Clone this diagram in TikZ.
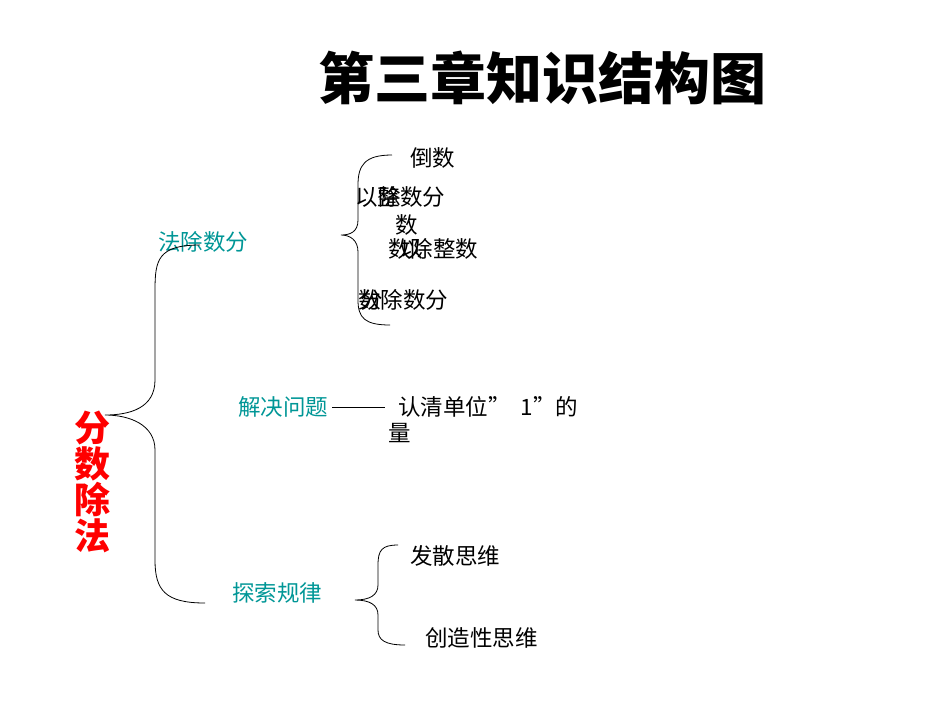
\documentclass[tikz,border=0pt]{standalone}
\usepackage{fontspec}
\setmainfont{Liberation Sans}
\newfontfamily\cjk{Noto Sans CJK SC}
\begin{document}
\begin{tikzpicture}[x=1pt,y=-1pt,
  lbl/.style={font=\cjk\fontsize{22.5}{26}\selectfont,inner sep=0},
  teal/.style={lbl,text={rgb,255:red,0;green,150;blue,150}},
  ln/.style={draw=black,line width=0.8pt}]
\useasboundingbox (0,0) rectangle (950,713);
\node[font=\cjk\bfseries\fontsize{56}{60}\selectfont,inner sep=0] (title) at (542,78) {第三章知识结构图};
\node[font=\cjk\bfseries\fontsize{36}{38}\selectfont,text=red,align=center,inner sep=0] (main) at (92,482) {分\\[-2pt]数\\[-2pt]除\\[-2pt]法};
\node[teal,anchor=west] (a) at (158,242) {法除数分};
\node[teal,anchor=west] (b) at (238,407) {解决问题};
\node[teal,anchor=west] (c) at (232,593) {探索规律};
\node[lbl,anchor=west] (a1) at (410,158) {倒数};
\node[lbl,anchor=west] (a2) at (355,197) {以整数分};
\node[lbl] (a2b) at (390,197) {除};
\node[lbl] (a2c) at (407,225) {数};
\node[lbl,anchor=west] (a3) at (388,249) {数除整数};
\node[lbl] (a3b) at (412,249) {以};
\node[lbl,anchor=west] (a4) at (358,300) {数除数分};
\node[lbl] (a4b) at (372,300) {分};
\node[lbl,anchor=west,align=left] (b1) at (388,420) {\ \ 认清单位”\ \ 1”的\\量};
\node[lbl,anchor=west] (c1) at (410,556) {发散思维};
\node[lbl,anchor=west] (c2) at (425,638) {创造性思维};
\coordinate (m1) at (105,415);
\draw[ln] (200,245) .. controls (158,245) and (155,260) .. (155,290) -- (155,380) .. controls (155,408) and (130,415) .. (m1)
  .. controls (130,415) and (155,425) .. (155,450) -- (155,560) .. controls (155,590) and (165,603) .. (205,603);
\draw[ln] (392,155) .. controls (365,155) and (358,165) .. (358,185) -- (358,220) .. controls (358,232) and (350,235) .. (341,235)
  .. controls (350,235) and (358,240) .. (358,252) -- (358,300) .. controls (358,318) and (365,325) .. (390,325);
\draw[ln] (b.east) ++(4,0) -- (385,407);
\draw[ln] (398,545) .. controls (382,545) and (378,550) .. (378,565) -- (378,585) .. controls (378,595) and (370,600) .. (355,600)
  .. controls (370,600) and (378,605) .. (378,615) -- (378,630) .. controls (378,640) and (385,645) .. (405,645);
\end{tikzpicture}
\end{document}
